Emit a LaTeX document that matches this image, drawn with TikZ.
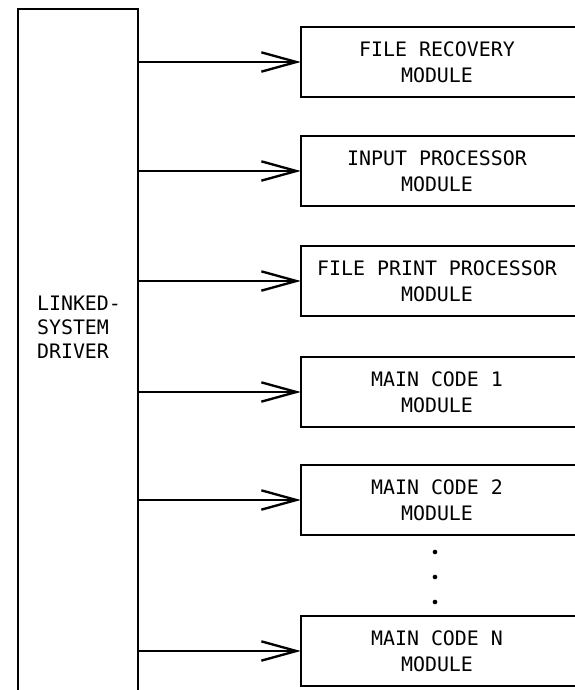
\documentclass[tikz,border=0pt]{standalone}
\usepackage{fontspec}
\newfontfamily\plotfont{DejaVu Sans Mono}
\usetikzlibrary{arrows.meta}

\begin{document}
\begin{tikzpicture}[
  x=0.3mm, y=-0.3mm,
  boxline/.style={line width=1.5pt, draw=black},
  modnode/.style={font=\plotfont\fontsize{17}{22}\selectfont, align=center, inner sep=0pt, minimum width=81.6mm, minimum height=21mm},
  drvnode/.style={font=\plotfont\fontsize{17}{20.5}\selectfont, align=left, inner sep=0pt},
  link/.style={line width=1.4pt, -{Straight Barb[length=10.5mm, width=5.8mm, line width=2pt]}}
]
  \useasboundingbox (0,0) rectangle (575,690);
  \clip (0,0) rectangle (575,690);

  % driver, open at the bottom
  \coordinate (trunk) at (138,9);
  \draw[boxline] (18,700) |- (trunk) -- (138,700);
  \node[drvnode] (drv) at (79,327) {LINKED-\\SYSTEM\\DRIVER};

  % modules, open at the right
  \node[modnode] (m1) at (437,62) {FILE RECOVERY\\MODULE};
  \node[modnode] (m2) at (437,171) {INPUT PROCESSOR\\MODULE};
  \node[modnode] (m3) at (437,281) {FILE PRINT PROCESSOR\\MODULE};
  \node[modnode] (m4) at (437,392) {MAIN CODE 1\\MODULE};
  \node[modnode] (m5) at (437,500) {MAIN CODE 2\\MODULE};
  \node[modnode] (m6) at (437,651) {MAIN CODE N\\MODULE};

  \foreach \m in {m1,m2,m3,m4,m5,m6} {
    \draw[boxline] ([xshift=6mm]\m.north east) -| (\m.south west) -- ([xshift=6mm]\m.south east);
    \draw[link] (\m.west -| trunk) -- (\m.west);
  }

  % dots
  \foreach \y in {552,577,602}
    \fill (435,\y) circle[radius=0.7mm];
\end{tikzpicture}
\end{document}
